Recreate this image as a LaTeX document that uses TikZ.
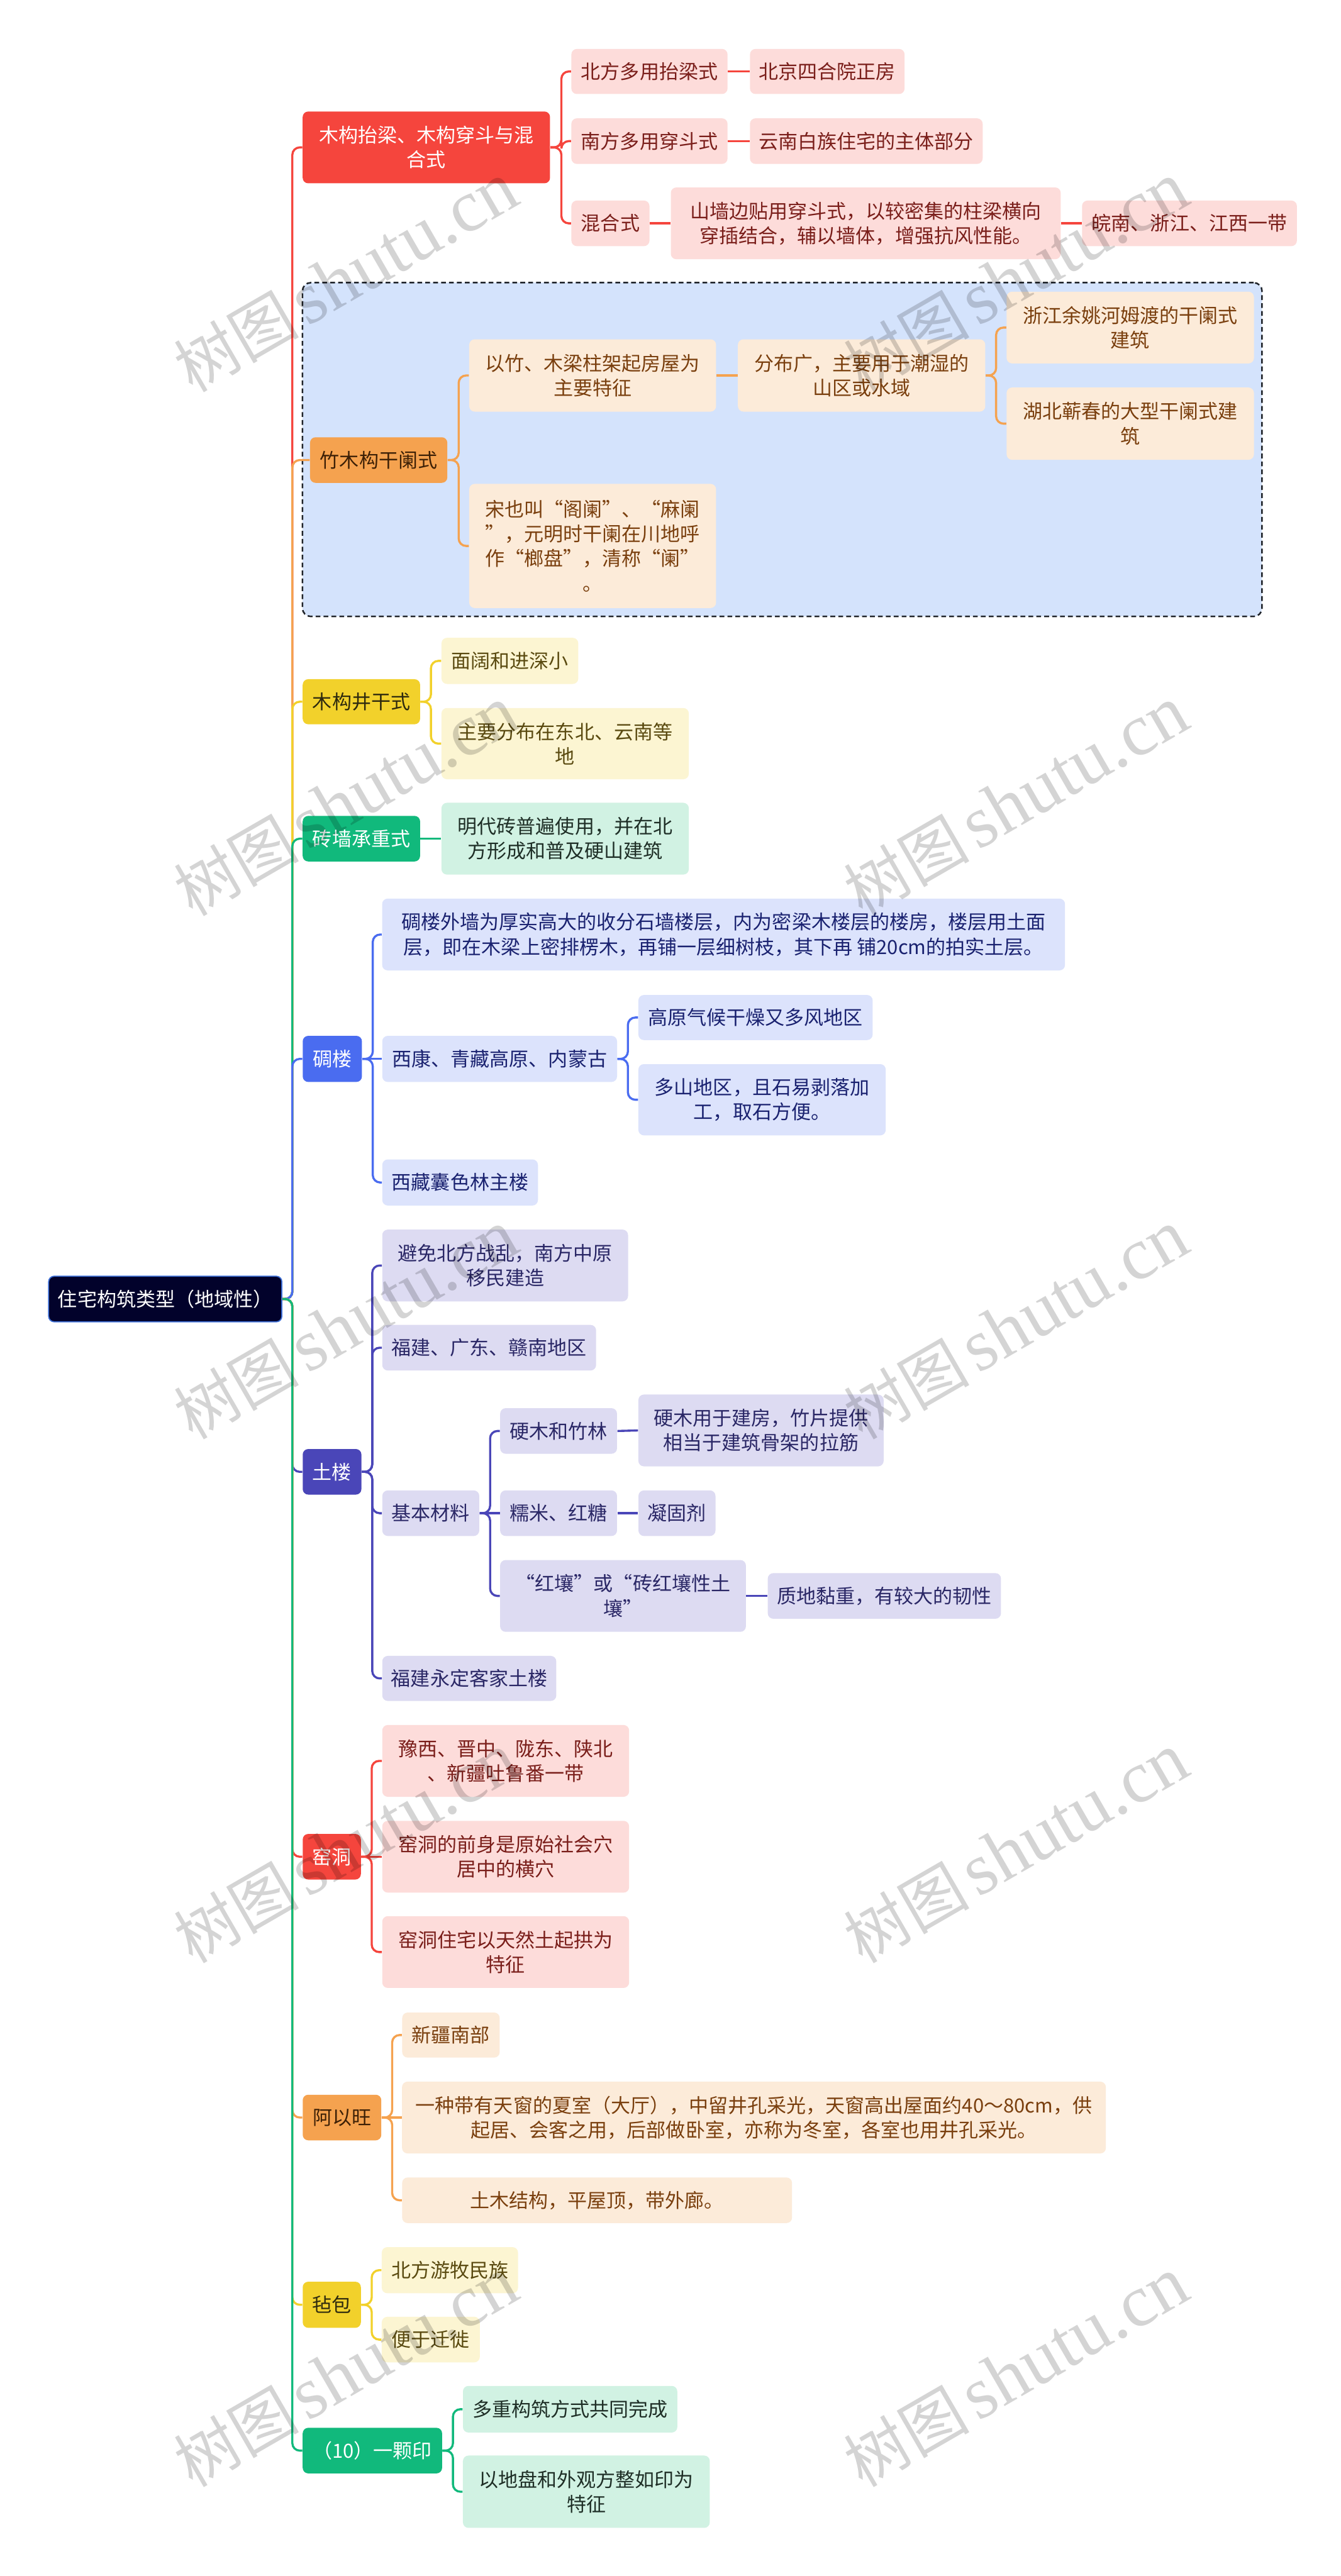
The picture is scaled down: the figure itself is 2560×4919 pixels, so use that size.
\documentclass[tikz,border=0pt]{standalone}
\usepackage{fontspec}
\setmainfont{Noto Sans CJK SC}
\newfontfamily\wmlat{Liberation Serif}
\newfontfamily\wmcjk{Noto Sans CJK SC}
\definecolor{rootF}{HTML}{02022B}
\definecolor{rootB}{HTML}{3D6FD8}
\definecolor{redM}{HTML}{F5453D}
\definecolor{redL}{HTML}{FDDCDA}
\definecolor{redT}{HTML}{7A1E1A}
\definecolor{orM}{HTML}{F5A24F}
\definecolor{orL}{HTML}{FCEBD9}
\definecolor{orT}{HTML}{7A3F0E}
\definecolor{orMT}{HTML}{3D2006}
\definecolor{yeM}{HTML}{F2D12B}
\definecolor{yeL}{HTML}{FCF5D2}
\definecolor{yeT}{HTML}{5A4A10}
\definecolor{yeMT}{HTML}{2E2A0E}
\definecolor{grM}{HTML}{11B97C}
\definecolor{grL}{HTML}{D1F2E3}
\definecolor{grT}{HTML}{1E2E26}
\definecolor{blM}{HTML}{4A6CF0}
\definecolor{blL}{HTML}{DCE3FC}
\definecolor{blT}{HTML}{1A2270}
\definecolor{inM}{HTML}{4A46B8}
\definecolor{inL}{HTML}{DDDBF2}
\definecolor{inT}{HTML}{2A2766}
\definecolor{grpF}{HTML}{D4E3FC}
\definecolor{grpB}{HTML}{20242A}
\newcommand\fs{\fontsize{10.6pt}{13.4pt}\selectfont}
\tikzset{
  base/.style={rounded corners=3pt, inner sep=0pt, align=center, font=\fs},
  rootbox/.style={base, fill=rootF, draw=rootB, line width=0.6pt, text=white},
  redMain/.style={base, fill=redM, text=white},
  redSub/.style={base, fill=redL, text=redT},
  orMain/.style={base, fill=orM, text=orMT},
  orSub/.style={base, fill=orL, text=orT},
  yeMain/.style={base, fill=yeM, text=yeMT},
  yeSub/.style={base, fill=yeL, text=yeT},
  grMain/.style={base, fill=grM, text=white},
  grSub/.style={base, fill=grL, text=grT},
  blMain/.style={base, fill=blM, text=white},
  blSub/.style={base, fill=blL, text=blT},
  inMain/.style={base, fill=inM, text=white},
  inSub/.style={base, fill=inL, text=inT},
  grpbox/.style={rounded corners=4.5pt, fill=grpF, draw=grpB, line width=0.85pt, dash pattern=on 2.6pt off 1.7pt, inner sep=0pt},
  ln/.style={line width=1.15pt, rounded corners=4pt},
  lred/.style={ln, draw=redM},
  lor/.style={ln, draw=orM},
  lye/.style={ln, draw=yeM},
  lgr/.style={ln, draw=grM},
  lbl/.style={ln, draw=blM},
  lin/.style={ln, draw=inM},
  wm/.style={text=black, opacity=0.17, rotate=30, inner sep=0pt}
}
\newcommand\wmtext{{\wmcjk\fontsize{34pt}{34pt}\selectfont 树图}\hspace{0.45em}{\wmlat\fontsize{40pt}{40pt}\selectfont shutu.cn}}
\begin{document}
\begin{tikzpicture}[x=0.01cm,y=-0.01cm]
\useasboundingbox[fill=white] (0,0) rectangle (2560,4919);

% group frame
\node[grpbox, minimum width=18.31cm, minimum height=6.37cm] (grp) at (1493.5,858.5) {};

% root
\node[rootbox, minimum width=4.45cm, minimum height=0.87cm] (root) at (315.5,2480.5) {住宅构筑类型（地域性）};

% level 1
\node[redMain, minimum width=4.72cm, minimum height=1.37cm] (m1) at (814,281.5) {木构抬梁、木构穿斗与混\\合式};
\node[orMain, minimum width=2.62cm, minimum height=0.87cm] (m2) at (723,878.5) {竹木构干阑式};
\node[yeMain, minimum width=2.24cm, minimum height=0.86cm] (m3) at (690,1340) {木构井干式};
\node[grMain, minimum width=2.24cm, minimum height=0.87cm] (m4) at (690,1601.5) {砖墙承重式};
\node[blMain, minimum width=1.13cm, minimum height=0.88cm] (m5) at (634.5,2022) {碉楼};
\node[inMain, minimum width=1.12cm, minimum height=0.87cm] (m6) at (634,2810.5) {土楼};
\node[redMain, minimum width=1.11cm, minimum height=0.87cm] (m7) at (633.5,3545.5) {窑洞};
\node[orMain, minimum width=1.50cm, minimum height=0.87cm] (m8) at (653,4043.5) {阿以旺};
\node[yeMain, minimum width=1.11cm, minimum height=0.88cm] (m9) at (633.5,4401) {毡包};
\node[grMain, minimum width=2.66cm, minimum height=0.87cm] (m10) at (711,4679.5) {（10）一颗印};

% branch 1
\node[redSub, minimum width=2.98cm, minimum height=0.86cm] (a1) at (1240,136.5) {北方多用抬梁式};
\node[redSub, minimum width=2.95cm, minimum height=0.86cm] (a1x) at (1579.5,136.5) {北京四合院正房};
\node[redSub, minimum width=2.98cm, minimum height=0.87cm] (a2) at (1240,269.5) {南方多用穿斗式};
\node[redSub, minimum width=4.44cm, minimum height=0.87cm] (a2x) at (1654,269.5) {云南白族住宅的主体部分};
\node[redSub, minimum width=1.49cm, minimum height=0.87cm] (a3) at (1165.5,426.5) {混合式};
\node[redSub, minimum width=7.44cm, minimum height=1.37cm] (a3x) at (1653,426.5) {山墙边贴用穿斗式，以较密集的柱梁横向\\穿插结合，辅以墙体，增强抗风性能。};
\node[redSub, minimum width=4.10cm, minimum height=0.87cm] (a3y) at (2271,426.5) {皖南、浙江、江西一带};

% branch 2
\node[orSub, minimum width=4.71cm, minimum height=1.38cm] (b1) at (1131.5,717) {以竹、木梁柱架起房屋为\\主要特征};
\node[orSub, minimum width=4.72cm, minimum height=1.38cm] (b1x) at (1645,717) {分布广，主要用于潮湿的\\山区或水域};
\node[orSub, minimum width=4.72cm, minimum height=1.37cm] (b1y) at (2158,625.5) {浙江余姚河姆渡的干阑式\\建筑};
\node[orSub, minimum width=4.72cm, minimum height=1.38cm] (b1z) at (2158,809) {湖北蕲春的大型干阑式建\\筑};
\node[orSub, minimum width=4.71cm, minimum height=2.37cm] (b2) at (1131.5,1042.5) {宋也叫“阁阑”、“麻阑\\”，元明时干阑在川地呼\\作“榔盘”，清称“阑”\\。};

% branch 3
\node[yeSub, minimum width=2.61cm, minimum height=0.88cm] (c1) at (973.5,1262) {面阔和进深小};
\node[yeSub, minimum width=4.72cm, minimum height=1.36cm] (c2) at (1079,1420) {主要分布在东北、云南等\\地};

% branch 4
\node[grSub, minimum width=4.72cm, minimum height=1.37cm] (d1) at (1079,1601.5) {明代砖普遍使用，并在北\\方形成和普及硬山建筑};

% branch 5
\node[blSub, minimum width=13.03cm, minimum height=1.37cm] (e1) at (1381.5,1784.5) {碉楼外墙为厚实高大的收分石墙楼层，内为密梁木楼层的楼房，楼层用土面\\层，即在木梁上密排楞木，再铺一层细树枝，其下再 铺20cm的拍实土层。};
\node[blSub, minimum width=4.48cm, minimum height=0.88cm] (e2) at (954,2022) {西康、青藏高原、内蒙古};
\node[blSub, minimum width=4.47cm, minimum height=0.86cm] (e2a) at (1442.5,1943) {高原气候干燥又多风地区};
\node[blSub, minimum width=4.72cm, minimum height=1.36cm] (e2b) at (1455,2100) {多山地区，且石易剥落加\\工，取石方便。};
\node[blSub, minimum width=2.97cm, minimum height=0.88cm] (e3) at (878.5,2258) {西藏囊色林主楼};

% branch 6
\node[inSub, minimum width=4.69cm, minimum height=1.37cm] (f1) at (964.5,2416.5) {避免北方战乱，南方中原\\移民建造};
\node[inSub, minimum width=4.08cm, minimum height=0.87cm] (f2) at (934,2573.5) {福建、广东、赣南地区};
\node[inSub, minimum width=1.85cm, minimum height=0.87cm] (f3) at (822.5,2889.5) {基本材料};
\node[inSub, minimum width=2.23cm, minimum height=0.87cm] (f3a) at (1066.5,2732.5) {硬木和竹林};
\node[inSub, minimum width=4.68cm, minimum height=1.37cm] (f3ax) at (1453,2731.5) {硬木用于建房，竹片提供\\相当于建筑骨架的拉筋};
\node[inSub, minimum width=2.23cm, minimum height=0.87cm] (f3b) at (1066.5,2889.5) {糯米、红糖};
\node[inSub, minimum width=1.47cm, minimum height=0.87cm] (f3bx) at (1292.5,2889.5) {凝固剂};
\node[inSub, minimum width=4.69cm, minimum height=1.37cm] (f3c) at (1189.5,3047.5) {“红壤”或“砖红壤性土\\壤”};
\node[inSub, minimum width=4.45cm, minimum height=0.87cm] (f3cx) at (1688.5,3047.5) {质地黏重，有较大的韧性};
\node[inSub, minimum width=3.32cm, minimum height=0.86cm] (f4) at (896,3205) {福建永定客家土楼};

% branch 7
\node[redSub, minimum width=4.71cm, minimum height=1.37cm] (g1) at (965.5,3362.5) {豫西、晋中、陇东、陕北\\、新疆吐鲁番一带};
\node[redSub, minimum width=4.71cm, minimum height=1.37cm] (g2) at (965.5,3545.5) {窑洞的前身是原始社会穴\\居中的横穴};
\node[redSub, minimum width=4.71cm, minimum height=1.37cm] (g3) at (965.5,3727.5) {窑洞住宅以天然土起拱为\\特征};

% branch 8
\node[orSub, minimum width=1.86cm, minimum height=0.86cm] (h1) at (861,3886) {新疆南部};
\node[orSub, minimum width=13.43cm, minimum height=1.37cm] (h2) at (1439.5,4043.5) {一种带有天窗的夏室（大厅），中留井孔采光，天窗高出屋面约40～80cm，供\\起居、会客之用，后部做卧室，亦称为冬室，各室也用井孔采光。};
\node[orSub, minimum width=7.44cm, minimum height=0.87cm] (h3) at (1140,4201.5) {土木结构，平屋顶，带外廊。};

% branch 9
\node[yeSub, minimum width=2.60cm, minimum height=0.88cm] (i1) at (859,4335) {北方游牧民族};
\node[yeSub, minimum width=1.87cm, minimum height=0.87cm] (i2) at (822.5,4467.5) {便于迁徙};

% branch 10
\node[grSub, minimum width=4.09cm, minimum height=0.89cm] (j1) at (1088.5,4600.5) {多重构筑方式共同完成};
\node[grSub, minimum width=4.71cm, minimum height=1.38cm] (j2) at (1119.5,4758) {以地盘和外观方整如印为\\特征};

% root connectors
\draw[lred] (root.east) -- ++(19,0) |- (m1.west);
\draw[lor] (root.east) -- ++(19,0) |- (m2.west);
\draw[lye] (root.east) -- ++(19,0) |- (m3.west);
\draw[lgr] (root.east) -- ++(19,0) |- (m4.west);
\draw[lbl] (root.east) -- ++(19,0) |- (m5.west);
\draw[lin] (root.east) -- ++(19,0) |- (m6.west);
\draw[lred] (root.east) -- ++(19,0) |- (m7.west);
\draw[lor] (root.east) -- ++(19,0) |- (m8.west);
\draw[lye] (root.east) -- ++(19,0) |- (m9.west);
\draw[lgr] (root.east) -- ++(19,0) |- (m10.west);

% branch 1 connectors
\draw[lred] (m1.east) -- ++(21,0) |- (a1.west);
\draw[lred] (m1.east) -- ++(21,0) |- (a2.west);
\draw[lred] (m1.east) -- ++(21,0) |- (a3.west);
\draw[lred] (a1.east) -- (a1x.west);
\draw[lred] (a2.east) -- (a2x.west);
\draw[lred] (a3.east) -- (a3x.west);
\draw[lred] (a3x.east) -- (a3y.west);

% branch 2 connectors
\draw[lor] (m2.east) -- ++(21,0) |- (b1.west);
\draw[lor] (m2.east) -- ++(21,0) |- (b2.west);
\draw[lor] (b1.east) -- (b1x.west);
\draw[lor] (b1x.east) -- ++(20,0) |- (b1y.west);
\draw[lor] (b1x.east) -- ++(20,0) |- (b1z.west);

% branch 3, 4
\draw[lye] (m3.east) -- ++(20,0) |- (c1.west);
\draw[lye] (m3.east) -- ++(20,0) |- (c2.west);
\draw[lgr] (m4.east) -- (d1.west);

% branch 5
\draw[lbl] (m5.east) -- ++(20,0) |- (e1.west);
\draw[lbl] (m5.east) -- (e2.west);
\draw[lbl] (m5.east) -- ++(20,0) |- (e3.west);
\draw[lbl] (e2.east) -- ++(20,0) |- (e2a.west);
\draw[lbl] (e2.east) -- ++(20,0) |- (e2b.west);

% branch 6
\draw[lin] (m6.east) -- ++(20,0) |- (f1.west);
\draw[lin] (m6.east) -- ++(20,0) |- (f2.west);
\draw[lin] (m6.east) -- ++(20,0) |- (f3.west);
\draw[lin] (m6.east) -- ++(20,0) |- (f4.west);
\draw[lin] (f3.east) -- ++(20,0) |- (f3a.west);
\draw[lin] (f3.east) -- (f3b.west);
\draw[lin] (f3.east) -- ++(20,0) |- (f3c.west);
\draw[lin] (f3a.east) -- (f3ax.west);
\draw[lin] (f3b.east) -- (f3bx.west);
\draw[lin] (f3c.east) -- (f3cx.west);

% branch 7
\draw[lred] (m7.east) -- ++(20,0) |- (g1.west);
\draw[lred] (m7.east) -- (g2.west);
\draw[lred] (m7.east) -- ++(20,0) |- (g3.west);

% branch 8
\draw[lor] (m8.east) -- ++(20,0) |- (h1.west);
\draw[lor] (m8.east) -- (h2.west);
\draw[lor] (m8.east) -- ++(20,0) |- (h3.west);

% branch 9
\draw[lye] (m9.east) -- ++(20,0) |- (i1.west);
\draw[lye] (m9.east) -- ++(20,0) |- (i2.west);

% branch 10
\draw[lgr] (m10.east) -- ++(20,0) |- (j1.west);
\draw[lgr] (m10.east) -- ++(20,0) |- (j2.west);

% watermarks
\node[wm] (w1) at (660,530) {\wmtext};
\node[wm] (w2) at (1940,530) {\wmtext};
\node[wm] (w3) at (660,1530) {\wmtext};
\node[wm] (w4) at (1940,1530) {\wmtext};
\node[wm] (w5) at (660,2530) {\wmtext};
\node[wm] (w6) at (1940,2530) {\wmtext};
\node[wm] (w7) at (660,3530) {\wmtext};
\node[wm] (w8) at (1940,3530) {\wmtext};
\node[wm] (w9) at (660,4530) {\wmtext};
\node[wm] (w10) at (1940,4530) {\wmtext};
\end{tikzpicture}
\end{document}
